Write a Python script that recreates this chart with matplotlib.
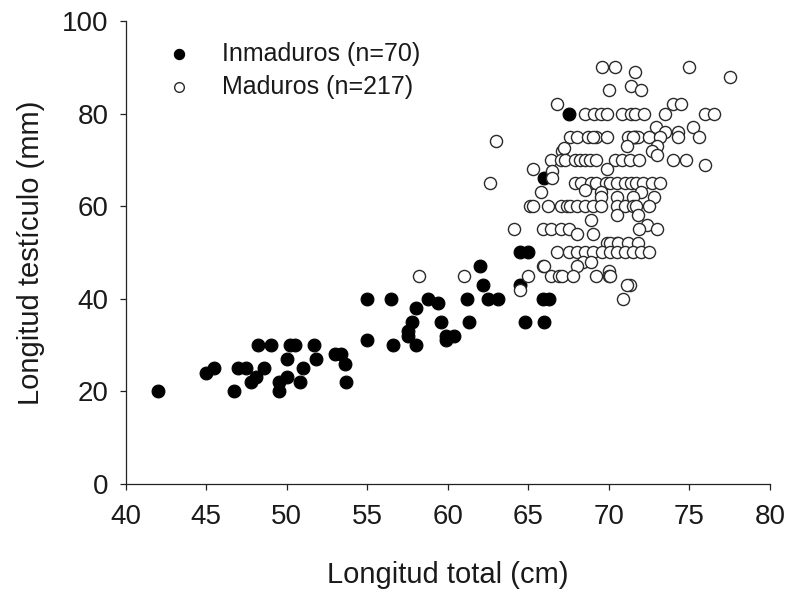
import matplotlib
matplotlib.use("Agg")
import matplotlib.pyplot as plt

# Inmaduros (filled) - longitud total (cm), longitud testiculo (mm)
inm_x = [42, 45, 45.5, 46.7, 47, 47.5, 47.8, 48.1, 48.2, 48.6, 49, 49.5, 49.5, 50, 50,
         50.2, 50.5, 51, 50.8, 51.7, 51.8, 53, 53.4, 53.6, 53.7, 55, 55, 56.5, 56.6, 58,
         57.8, 57.5, 57.5, 58, 58.8, 59.4, 59.6, 59.9, 59.9, 60.4, 61.2, 61.3, 62, 62.2,
         62.5, 63.1, 64.5, 64.8, 66, 65.9, 66.3, 64.5, 65, 67.5, 66, 71.6]
inm_y = [20, 24, 25, 20, 25, 25, 22, 23, 30, 25, 30, 22, 20, 23, 27,
         30, 30, 25, 22, 30, 27, 28, 28, 26, 22, 40, 31, 40, 30, 38,
         35, 33, 32, 30, 40, 39, 35, 32, 31, 32, 40, 35, 47, 43,
         40, 40, 43, 35, 35, 40, 40, 50, 50, 80, 66, 75]

# Maduros (open)
mad_x = [69.6, 70.4, 75.0, 71.6, 77.5, 71.4, 70.0, 72.0, 66.8, 74.0, 74.5,
         68.5, 69.1, 69.5, 69.9, 70.8, 71.4, 71.6, 72.2, 73.5, 76.0, 76.5,
         72.9, 75.2, 73.5, 74.3,
         67.6, 68.0, 68.7, 69.2, 69.9, 71.2, 71.8, 72.5, 73.2, 74.3, 75.6, 71.5, 69.0,
         63.0, 71.1, 73.0, 67.1, 67.2, 72.7, 73.0,
         66.4, 67.0, 67.3, 67.9, 68.2, 68.5, 68.8, 69.2, 70.4, 70.8, 71.3, 71.9, 74.0, 74.8,
         76.0, 65.3, 69.9, 66.5, 66.5,
         62.6, 67.9, 68.3, 68.9, 69.2, 69.8, 70.1, 70.5, 71.0, 71.4, 71.7, 72.1, 72.7, 73.2,
         65.8, 68.5, 69.5, 72.0, 69.5, 70.5, 71.5, 72.8,
         65.1, 65.3, 66.2, 67.0, 67.4, 67.6, 68.0, 68.5, 69.0, 69.5, 70.5, 71.0, 71.5, 71.7, 72.5,
         70.5, 71.8, 68.9, 72.4,
         64.1, 65.9, 66.4, 67.0, 67.5, 71.9, 73.0, 68.0, 69.0,
         69.9, 70.5, 70.1, 70.6, 71.2, 71.8,
         66.8, 67.5, 68.0, 68.5, 69.0, 69.6, 70.1, 70.5, 71.0, 71.5, 72.0, 72.5,
         68.4, 68.9, 68.0, 65.9, 66.0, 70.0,
         58.2, 61.0, 65.0, 66.4, 66.9, 67.1, 67.8, 69.2, 70.0, 70.1,
         71.3, 71.1, 64.5, 70.9]
mad_y = [90, 90, 90, 89, 88, 86, 85, 85, 82, 82, 82,
         80, 80, 80, 80, 80, 80, 80, 80, 80, 80, 80,
         77, 77, 76, 76,
         75, 75, 75, 75, 75, 75, 75, 75, 75, 75, 75, 75, 75,
         74, 73, 73, 72, 72.5, 72, 71,
         70, 70, 70, 70, 70, 70, 70, 70, 70, 70, 70, 70, 70, 70,
         69, 68, 68, 67.5, 66,
         65, 65, 65, 65, 65, 65, 65, 65, 65, 65, 65, 65, 65, 65,
         63, 63.5, 63, 63, 62, 62, 62, 62,
         60, 60, 60, 60, 60, 60, 60, 60, 60, 60, 60, 60, 60, 60, 60,
         58, 58, 57, 56,
         55, 55, 55, 55, 55, 55, 55, 54, 54,
         52, 52, 52, 52, 52, 52,
         50, 50, 50, 50, 50, 50, 50, 50, 50, 50, 50, 50,
         48, 48, 47, 47, 47, 46,
         45, 45, 45, 45, 45, 45, 45, 45, 45, 45,
         43, 43, 42, 40]

plt.rcParams['font.family'] = ['Liberation Sans', 'DejaVu Sans']
plt.rcParams['text.color'] = '#1a1a1a'
plt.rcParams['axes.labelcolor'] = '#1a1a1a'
plt.rcParams['xtick.labelcolor'] = '#1a1a1a'
plt.rcParams['ytick.labelcolor'] = '#1a1a1a'

fig = plt.figure(figsize=(7.88, 5.90), dpi=100)
ax = fig.add_axes([0.1595, 0.1797, 0.8175, 0.7847])

ax.scatter(inm_x, inm_y, s=85, facecolor='black', edgecolor='black', linewidth=0.8,
           label='Inmaduros (n=70)', zorder=2)
ax.scatter(mad_x, mad_y, s=76, facecolor='white', edgecolor='#2a2a2a', linewidth=1.0,
           label='Maduros (n=217)', zorder=3)

ax.set_xlim(40, 80)
ax.set_ylim(0, 100)
ax.set_xticks(range(40, 81, 5))
ax.set_yticks(range(0, 101, 20))
ax.spines['top'].set_visible(False)
ax.spines['right'].set_visible(False)
for s in ['left', 'bottom']:
    ax.spines[s].set_linewidth(0.9)
    ax.spines[s].set_color('#222222')
ax.tick_params(direction='out', length=4.5, width=0.9, labelsize=20, color='#222222')
ax.tick_params(axis='x', pad=10)
ax.tick_params(axis='y', pad=8)

ax.set_xlabel('Longitud total (cm)', fontsize=21, labelpad=22)
ax.set_ylabel('Longitud testículo (mm)', fontsize=21, labelpad=12)

ax.legend(loc='upper left', bbox_to_anchor=(0.183, 0.9466), bbox_transform=fig.transFigure,
          frameon=False, fontsize=18, markerscale=0.8, handletextpad=0.72,
          labelspacing=0.38, borderpad=0.4, borderaxespad=0)

fig.savefig('out.png', dpi=100)
